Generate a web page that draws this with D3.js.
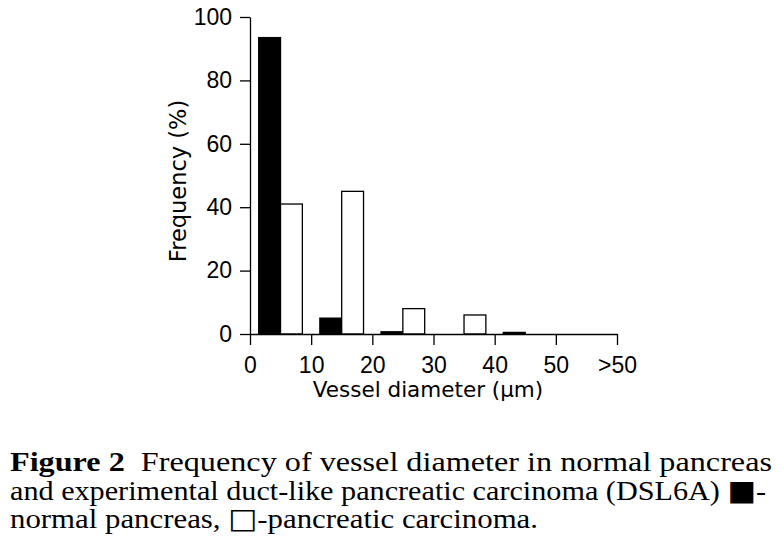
<!DOCTYPE html>
<html>
<head>
<meta charset="utf-8">
<script src="https://cdn.jsdelivr.net/npm/d3@7"></script>
<style>
  body { margin: 0; background: #fff; }
  svg { display: block; }
</style>
</head>
<body>
<div id="chart"></div>
<script>
// data
var bins = ["0-10", "10-20", "20-30", "30-40", "40-50", ">50"];
var series = ["normal", "carcinoma"];
var normalPancreas = [93.5, 5, 0.7, 0, 0.5, 0];
var pancreaticCarcinoma = [41, 45, 8, 6, 0, 0];
var xTickValues = [0, 10, 20, 30, 40, 50, 60];
var xTickLabels = ["0", "10", "20", "30", "40", "50", ">50"];
var yTickValues = [0, 20, 40, 60, 80, 100];

var captionLines = [
  "Frequency of vessel diameter in normal pancreas",
  "and experimental duct-like pancreatic carcinoma (DSL6A)",
  "normal pancreas,"
];

var svgWidth = 782;
var svgHeight = 553;

var plot = { left: 250, right: 617, top: 17, bottom: 334 };

var svg = d3.select("#chart")
  .append("svg")
  .attr("width", svgWidth)
  .attr("height", svgHeight);

var data = bins.map(function(b, i) {
  return { bin: b, normal: normalPancreas[i], carcinoma: pancreaticCarcinoma[i] };
});

// scales
var x = d3.scaleLinear().domain([0, 60]).range([plot.left, plot.right]);
var x0 = d3.scaleBand().domain(bins).range([plot.left, plot.right]).padding(0);
var bw = x0.bandwidth();
var x1 = d3.scaleBand().domain(series).range([bw * 0.142, bw * 0.856]).padding(0);
var y = d3.scaleLinear().domain([0, 100]).range([plot.bottom, plot.top]);

var fills = { normal: "#000", carcinoma: "#fff" };

// bars
var groups = svg.append("g").selectAll("g")
  .data(data)
  .enter()
  .append("g")
  .attr("transform", d => `translate(${x0(d.bin)},0)`);

groups.selectAll("rect")
  .data(d => series.map(k => ({ key: k, value: d[k] })))
  .enter()
  .filter(d => d.value > 0)
  .append("rect")
  .attr("x", d => x1(d.key))
  .attr("y", d => y(d.value))
  .attr("width", x1.bandwidth())
  .attr("height", d => y(0) - y(d.value))
  .attr("fill", d => fills[d.key])
  .attr("stroke", "#000")
  .attr("stroke-width", 1.3);

// axes
var yAxis = d3.axisLeft(y)
  .tickValues(yTickValues)
  .tickSize(10)
  .tickPadding(8)
  .tickSizeOuter(0);

var xAxis = d3.axisBottom(x)
  .tickValues(xTickValues)
  .tickFormat((d, i) => xTickLabels[i])
  .tickSize(11)
  .tickPadding(12)
  .tickSizeOuter(0);

var gy = svg.append("g")
  .attr("transform", `translate(${plot.left},0)`)
  .call(yAxis);

var gx = svg.append("g")
  .attr("transform", `translate(0,${plot.bottom})`)
  .call(xAxis);

[gx, gy].forEach(function(g) {
  g.selectAll("path, line").attr("stroke", "#000").attr("stroke-width", 1.3);
  g.selectAll("text")
    .attr("fill", "#000")
    .style("font-family", "'Liberation Sans', Arial, sans-serif")
    .style("font-size", "23px");
});

// axis titles
svg.append("text")
  .attr("x", 428)
  .attr("y", 397)
  .attr("text-anchor", "middle")
  .style("font-family", "'DejaVu Sans', Verdana, sans-serif")
  .style("font-size", "21.5px")
  .text("Vessel diameter (\u03bcm)");

svg.append("text")
  .attr("transform", "rotate(-90)")
  .attr("x", -181)
  .attr("y", 186)
  .attr("text-anchor", "middle")
  .style("font-family", "'DejaVu Sans', Verdana, sans-serif")
  .style("font-size", "22.5px")
  .text("Frequency (%)");

// caption
var cap = svg.append("g")
  .style("font-family", "'Liberation Serif', 'Times New Roman', serif")
  .style("font-size", "28px")
  .attr("fill", "#000");

var l1 = cap.append("text").attr("x", 10).attr("y", 471);
l1.append("tspan").style("font-weight", "bold").text("Figure 2");
l1.append("tspan").text("\u00a0\u00a0" + captionLines[0]);

var l2 = cap.append("text").attr("x", 10).attr("y", 500);
l2.append("tspan").text(captionLines[1] + " ");
l2.append("tspan").style("font-family", "'DejaVu Sans', sans-serif").text("\u25a0");
l2.append("tspan").text("-");

var l3 = cap.append("text").attr("x", 10).attr("y", 528);
l3.append("tspan").text(captionLines[2] + " ");
l3.append("tspan").style("font-family", "'DejaVu Sans', sans-serif").text("\u25a1");
l3.append("tspan").text("-pancreatic carcinoma.");

// fit caption lines to the printed line widths
var lineWidths = [762, 756, 528];
[l1, l2, l3].forEach(function(t, i) {
  t.attr("textLength", lineWidths[i]).attr("lengthAdjust", "spacingAndGlyphs");
});
</script>
</body>
</html>
